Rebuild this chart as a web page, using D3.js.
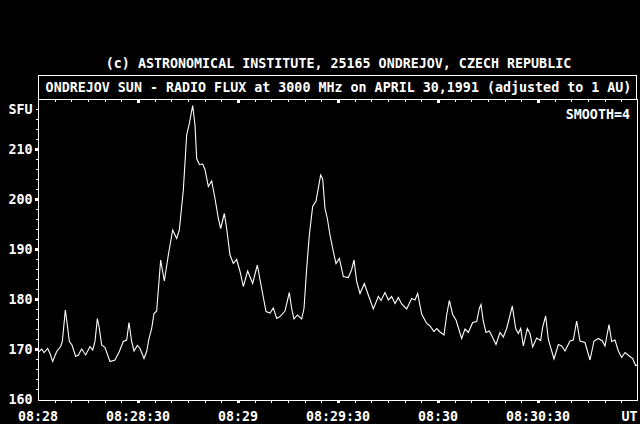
<!DOCTYPE html>
<html><head><meta charset="utf-8">
<script src="https://cdn.jsdelivr.net/npm/d3@7"></script>
<style>
html,body{margin:0;padding:0;background:#000;}
svg{display:block;}
text{font-family:'DejaVu Sans Mono',monospace;font-weight:bold;font-size:13.33px;fill:#fff;}
</style>
</head><body><svg id="c" width="640" height="424"></svg>
<script>
// seconds after 08:28:00 UT
const seconds = [0.3,1.1,1.8,2.9,3.6,4.4,5.6,6.8,7.3,8.2,8.8,9.4,10.2,11.3,12.1,13.1,14.3,15.6,16.4,17.1,17.8,18.4,19.1,20.1,21.6,23.1,24.4,25.6,26.6,27.3,28.1,28.8,29.8,30.6,31.8,32.6,33.3,34.1,34.8,35.6,36.8,37.9,39.1,40.4,41.6,42.4,43.6,44.6,45.4,46.4,47.1,47.6,48.4,49.4,50.1,51.1,52.1,53.1,54.1,54.8,55.9,56.6,57.6,58.6,59.6,60.6,61.6,62.9,64.4,65.8,67.1,68.4,69.6,70.6,71.6,72.6,74.1,75.4,76.1,76.8,77.8,79.1,79.8,80.6,81.4,82.4,83.4,84.8,85.4,86.1,86.8,87.6,88.6,89.4,90.4,91.6,93.1,94.1,94.8,95.6,96.6,97.9,99.1,100.6,102.1,102.9,104.1,105.1,106.1,107.1,108.1,109.1,110.6,112.1,113.1,113.9,115.1,116.6,117.6,118.8,119.6,120.6,121.8,122.6,123.4,124.4,125.4,127.1,128.1,129.1,130.4,131.6,132.4,132.9,133.6,134.4,135.4,136.1,137.4,138.6,139.6,140.6,142.3,143.3,144.1,144.8,145.6,146.8,147.6,148.4,149.6,150.8,151.4,152.3,153.1,154.8,156.1,157.1,158.1,159.6,160.6,161.6,162.6,164.1,165.6,166.8,168.1,169.3,170.1,171.3,172.1,173.1,174.1,175.1,176.1,177.4,178.4,179.3,179.8];
// radio flux, SFU
const flux = [169.5,170.0,169.3,170.1,169.1,167.5,169.5,170.5,171.5,177.8,174.8,171.5,170.8,168.5,168.8,170.0,168.8,170.5,169.8,171.5,176.1,174.1,170.8,170.3,167.5,167.8,169.5,171.5,171.8,175.3,171.5,169.6,170.7,170.1,168.1,169.5,172.1,174.1,177.1,177.6,187.8,183.6,188.8,193.8,192.1,193.8,201.8,212.8,215.1,218.7,214.8,208.1,206.9,207.0,205.9,202.5,203.6,200.1,196.1,194.1,197.1,194.1,188.8,187.1,187.9,185.5,182.5,185.6,183.1,186.8,182.1,177.5,177.2,178.2,176.1,176.5,177.6,181.3,178.1,176.0,176.8,176.0,178.1,186.1,192.8,198.5,199.6,204.8,204.0,198.1,196.1,192.8,189.5,187.1,188.1,184.5,184.3,185.9,187.8,183.5,181.1,183.1,180.8,178.0,180.5,179.7,181.3,179.8,180.5,179.1,180.3,179.0,178.0,180.1,179.8,181.1,177.0,175.1,174.6,173.5,174.1,173.4,172.8,176.8,179.7,176.9,175.8,172.1,174.0,173.3,175.3,175.5,178.1,178.9,175.5,173.3,173.6,172.7,170.9,173.3,172.4,174.1,178.6,174.1,173.1,174.1,170.6,174.1,173.1,170.4,172.2,171.7,174.4,176.6,171.9,168.0,170.9,170.6,169.6,171.6,171.8,175.6,171.6,171.3,167.8,171.6,172.1,171.6,170.6,174.9,171.5,171.8,169.6,168.3,169.3,168.6,168.1,166.7,166.8];

const yTickValues = [160,170,180,190,200,210];
const xTickSeconds = [0,30,60,90,120,150,180];
const xTickLabels = ["08:28","08:28:30","08:29","08:29:30","08:30","08:30:30","UT"];
const copyrightText = "(c) ASTRONOMICAL INSTITUTE, 25165 ONDREJOV, CZECH REPUBLIC";
const titleText = "ONDREJOV SUN - RADIO FLUX at 3000 MHz on APRIL 30,1991 (adjusted to 1 AU)";
const smoothText = "SMOOTH=4";
const unitText = "SFU";

const svg = d3.select("#c");
svg.append("rect").attr("width",640).attr("height",424).attr("fill","#000");

const L = 38, R = 638, T = 99, B = 399;
const x = d3.scaleLinear().domain([0,180]).range([L,R]);
const y = d3.scaleLinear().domain([160,220]).range([B,T]);

// copyright line
svg.append("text").attr("x",338.5).attr("y",68).attr("text-anchor","middle").text(copyrightText);
// title box
svg.append("rect").attr("x",38.5).attr("y",75.5).attr("width",598).attr("height",24)
  .attr("fill","none").attr("stroke","#fff").attr("stroke-width",1).attr("shape-rendering","crispEdges");
svg.append("text").attr("x",338.5).attr("y",92).attr("text-anchor","middle").text(titleText);

// plot frame
const g = svg.append("g").attr("shape-rendering","crispEdges");
g.append("line").attr("x1",38.5).attr("x2",637.5).attr("y1",99.5).attr("y2",99.5).attr("stroke","#fff");
g.append("line").attr("x1",38.5).attr("x2",637.5).attr("y1",400.5).attr("y2",400.5).attr("stroke","#fff");
g.append("line").attr("x1",38.5).attr("x2",38.5).attr("y1",99.5).attr("y2",400.5).attr("stroke","#fff");
g.append("line").attr("x1",637.5).attr("x2",637.5).attr("y1",99.5).attr("y2",400.5).attr("stroke","#fff");

// y minor ticks (every 2 SFU)
const yMinor = d3.range(162,220,2).filter(v => v % 10 !== 0);
g.selectAll(".ym").data(yMinor).join("rect")
  .attr("x",36).attr("y",d => Math.round(y(d))).attr("width",2).attr("height",1).attr("fill","#fff");
// y major tick blocks
g.selectAll(".yM").data(yTickValues.filter(v=>v>160)).join("rect")
  .attr("x",35).attr("y",d => Math.round(y(d))-1).attr("width",3).attr("height",3).attr("fill","#fff");

// x ticks every 5 s
const xMinor = d3.range(5,180,5).filter(s => s % 30 !== 0);
g.selectAll(".xmb").data(xMinor).join("rect")
  .attr("x",d => Math.round(x(d))).attr("y",401).attr("width",1).attr("height",2).attr("fill","#fff");
g.selectAll(".xmt").data(xMinor).join("rect")
  .attr("x",d => Math.round(x(d))).attr("y",100).attr("width",1).attr("height",2).attr("fill","#fff");
const xMajor = xTickSeconds.filter(s => s > 0 && s < 180);
g.selectAll(".xMb").data(xMajor).join("rect")
  .attr("x",d => Math.round(x(d))-1).attr("y",400).attr("width",3).attr("height",3).attr("fill","#fff");
g.selectAll(".xMt").data(xMajor).join("rect")
  .attr("x",d => Math.round(x(d))-1).attr("y",100).attr("width",3).attr("height",3).attr("fill","#fff");

// y labels
svg.selectAll(".yl").data(yTickValues).join("text")
  .attr("x",32.5).attr("y",d => y(d)+5).attr("text-anchor","end").text(d => d);
svg.append("text").attr("x",32.5).attr("y",113.5).attr("text-anchor","end").text(unitText);

// x labels
svg.selectAll(".xl").data(xTickSeconds).join("text")
  .attr("x",(d,i) => i === xTickSeconds.length-1 ? 637.5 : x(d))
  .attr("y",421)
  .attr("text-anchor",(d,i) => i === xTickSeconds.length-1 ? "end" : "middle")
  .text((d,i) => xTickLabels[i]);

// smooth label
svg.append("text").attr("x",630).attr("y",119).attr("text-anchor","end").text(smoothText);

// data line
const data = seconds.map((s,i) => ({s, v: flux[i]})).filter(d => d.v !== undefined);
svg.append("path").datum(data)
  .attr("fill","none").attr("stroke","#fff").attr("stroke-width",1.1)
  .attr("d", d3.line().x(d => x(d.s)).y(d => y(d.v)));
</script>
</body></html>
